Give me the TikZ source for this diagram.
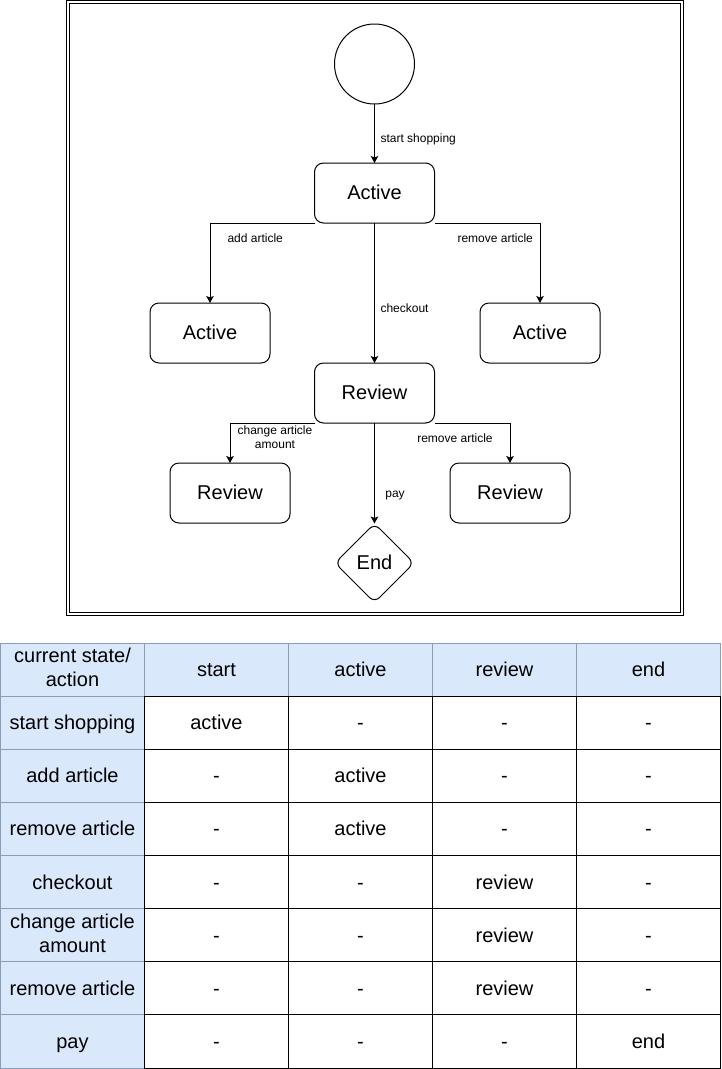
\documentclass[tikz,border=0pt]{standalone}
\usepackage{fontspec}
\setmainfont{Liberation Sans}
\usetikzlibrary{arrows.meta,shapes.geometric}
\definecolor{cellblue}{HTML}{DAE8FC}
\definecolor{cellline}{HTML}{8A9CB6}
\newcommand\linestrut{\rule[-0.212em]{0pt}{1.117em}}

\begin{document}
\begin{tikzpicture}[x=1pt,y=-1pt,line width=1pt,
  every node/.style={execute at begin node=\linestrut,execute at end node=\linestrut},
  state/.style={draw,rounded corners=9pt,minimum width=120pt,minimum height=60pt,
    outer sep=0pt,font=\fontsize{20}{23}\selectfont},
  lbl/.style={inner sep=0pt,align=center,font=\fontsize{12}{14}\selectfont},
  arr/.style={-{Stealth[length=7pt,width=7.5pt,inset=1.5pt]}},
  cell/.style={draw,fill=white,anchor=north west,minimum width=144pt,
    minimum height=53.125pt,outer sep=0pt,inner sep=0pt,align=center,
    font=\fontsize{20}{24}\selectfont},
  head/.style={cell,draw=cellline,fill=cellblue}]
\useasboundingbox (0,0) rectangle (722,1069);
\draw (66.7,0.8) rectangle (683.2,615.3);
\draw (69.5,3.5) rectangle (680,612.3);
\node[draw,circle,minimum size=80pt,outer sep=0pt] (start) at (374.5,64) {};
\node[state] (active) at (374.5,193) {Active};
\node[state] (addactive) at (210,333) {Active};
\node[state] (removeactive) at (540,333) {Active};
\node[state] (review) at (374.5,393) {Review};
\node[state] (changereview) at (230,493) {Review};
\node[state] (removereview) at (510,493) {Review};
\node[draw,diamond,aspect=1,minimum width=79pt,minimum height=79pt,inner sep=0pt,
  outer sep=0pt,rounded corners=7pt,font=\fontsize{20}{23}\selectfont] (finish) at (374.5,563) {End};
\draw[arr] (start) -- (active);
\draw[arr] (active.south west) -| (addactive.north);
\draw[arr] (active.south east) -| (removeactive.north);
\draw[arr] (active) -- (review);
\draw[arr] (review.south west) -| (changereview.north);
\draw[arr] (review.south east) -| (removereview.north);
\draw[arr] (review) -- (finish);
\node[lbl,anchor=west] (lstart) at (380,138) {start shopping};
\node[lbl,anchor=west] (ladd) at (227,238) {add article};
\node[lbl,anchor=west] (lremove) at (457,238) {remove article};
\node[lbl,anchor=west] (lcheckout) at (380,308) {checkout};
\node[lbl] (lchange) at (275,438) {change article\\amount};
\node[lbl] (lremovetwo) at (455,438) {remove article};
\node[lbl] (lpay) at (395,493) {pay};
% table
\foreach \t [count=\j from 0] in {{current state/\\action},start,active,review,end}
  \node[head] (h\j) at (144*\j+0.5,643) {\t};
\foreach \a/\b/\c/\d/\e [count=\r] in {start shopping/active/-/-/-,
    add article/-/active/-/-, remove article/-/active/-/-, checkout/-/-/review/-,
    {change article\\amount}/-/-/review/-, remove article/-/-/review/-, pay/-/-/-/end} {
  \node[head] (c\r a) at (0.5,643+53.125*\r) {\a};
  \node[cell] (c\r b) at (144.5,643+53.125*\r) {\b};
  \node[cell] (c\r c) at (288.5,643+53.125*\r) {\c};
  \node[cell] (c\r d) at (432.5,643+53.125*\r) {\d};
  \node[cell] (c\r e) at (576.5,643+53.125*\r) {\e};
}
\end{tikzpicture}
\end{document}
